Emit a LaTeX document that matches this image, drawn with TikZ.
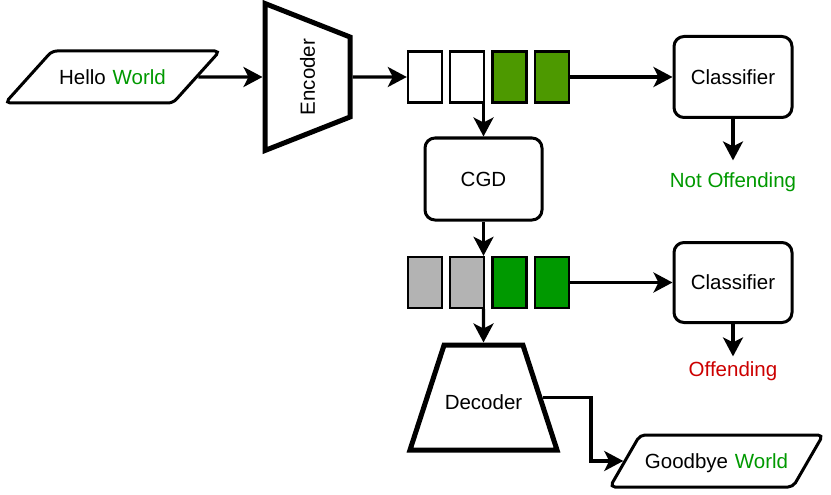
\documentclass[tikz,border=0pt]{standalone}
\usepackage{fontspec}
\setmainfont{Liberation Sans}
\usetikzlibrary{arrows.meta,positioning,shapes.geometric}
\definecolor{tokgreen}{HTML}{4D9900}
\definecolor{safegreen}{HTML}{009900}
\definecolor{maskgray}{HTML}{B3B3B3}
\definecolor{alertred}{HTML}{CC0000}

\begin{document}
\begin{tikzpicture}[x=1pt,y=-1pt,
    font=\fontsize{20.5}{24}\selectfont,
    >={Stealth[length=19pt,width=20pt,inset=5pt]},
    io/.style={trapezium, draw, line width=3pt, rounded corners=5pt,
      inner sep=0pt, align=center, text height=33.35pt, text depth=18.65pt},
    coder/.style={trapezium, draw, line width=5pt, inner sep=0pt, align=center},
    block/.style={draw, rounded corners=10pt, line width=3pt,
      minimum width=118pt, minimum height=81pt},
    tok/.style={draw, line width=2.4pt, minimum width=34pt, minimum height=51pt, inner sep=0pt},
    flow/.style={->, line width=3.2pt}]
      \useasboundingbox (0,0) rectangle (831,495);
      % input and encoder
      \node[io, trapezium left angle=48, trapezium right angle=132,
        text width=121pt] (hello) at (112.5,77) {Hello \textcolor{safegreen}{World}};
      \node[coder, trapezium left angle=111.5, trapezium right angle=111.5,
        text width=80pt, text height=49.85pt, text depth=35.15pt, rotate=90] (enc) at (307.5,77) {Encoder};
      % latent tokens
      \node[tok] (t1) at (425,77) {};
      \node[tok] (t2) at (467,77) {};
      \node[tok, fill=tokgreen] (t3) at (509.5,77) {};
      \node[tok, fill=tokgreen] (t4) at (552,77) {};
      \node[block] (cls1) at (733,77) {Classifier};
      \node[text=safegreen] (res1) at (733,182.5) {Not Offending};
      \node[block, minimum width=117pt, minimum height=82pt] (cgd) at (483.5,179) {CGD};
      % edited tokens
      \node[tok, fill=maskgray] (s1) at (425,282.5) {};
      \node[tok, fill=maskgray] (s2) at (467,282.5) {};
      \node[tok, fill=safegreen] (s3) at (509.5,282.5) {};
      \node[tok, fill=safegreen] (s4) at (552,282.5) {};
      \node[block, minimum height=80pt] (cls2) at (733,282.5) {Classifier};
      \node[text=alertred] (res2) at (733,371.5) {Offending};
      % decoder and output
      \node[coder, trapezium left angle=72, trapezium right angle=72,
        text width=78.8pt, text height=64.3pt, text depth=40.7pt] (dec) at (483.5,397.5) {Decoder};
      \node[io, trapezium left angle=60, trapezium right angle=120,
        text width=153pt] (bye) at (716.5,461) {Goodbye \textcolor{safegreen}{World}};
      \coordinate (elbow) at (591,429);

      \draw[flow] (hello) -- (enc);
      \draw[flow] (enc) -- (t1);
      \draw[flow] (t4) -- (cls1);
      \draw[flow, shorten >=9pt] (cls1) -- (res1);
      \draw[flow] (t2.south -| cgd) -- (cgd);
      \draw[flow] (cgd) -- (cgd |- s2.north);
      \draw[flow] (s4) -- (cls2);
      \draw[flow, shorten >=2pt] (cls2) -- (res2);
      \draw[flow] (s2.south -| dec) -- (dec);
      \draw[flow] (dec.east) -| (elbow) |- (bye.west);
\end{tikzpicture}
\end{document}
